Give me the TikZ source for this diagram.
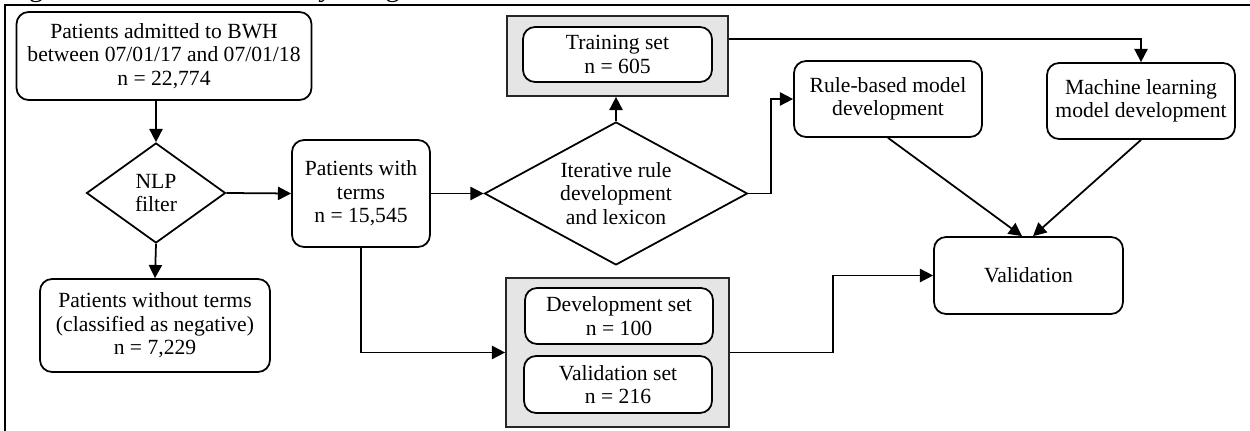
\documentclass[tikz,border=0pt]{standalone}
\usepackage{fontspec}
\setmainfont{Liberation Serif}
\usetikzlibrary{arrows.meta, shapes.geometric}
\tikzset{
	box/.style={draw, line width=1pt, rounded corners=0.24cm, align=center, inner sep=2pt, fill=white},
	decision/.style={draw, line width=1pt, diamond, align=center, inner sep=0pt, fill=white},
	grayframe/.style={draw=black!85, line width=1pt, fill=gray!20, inner sep=0pt},
	arr/.style={line width=1pt, -{Triangle[length=7.5pt,width=7.5pt]}},
}

\begin{document}
\begin{tikzpicture}[x=0.02cm, y=-0.02cm, font=\fontsize{12.3}{13.4}\selectfont]
	\useasboundingbox (0,0) rectangle (1250,431);
	\node[anchor=base west, inner sep=0pt, font=\fontsize{16.2}{18}\selectfont] (title) at (5,-3) {Figure 1. Flowchart of study design};
	\draw[line width=1.3pt] (5,431) -- (5,5) -- (1250,5);

	\node[box, minimum width=5.9cm, minimum height=1.76cm] (admit) at (164,56) {Patients admitted to BWH\\between 07/01/17 and 07/01/18\\n = 22,774};
	\node[decision, aspect=1.39, minimum width=2.78cm, minimum height=2cm] (nlp) at (156,193) {NLP\\filter};
	\node[box, minimum width=4.6cm, minimum height=1.86cm] (neg) at (155,325.5) {Patients without terms\\(classified as negative)\\n = 7,229};
	\node[box, minimum width=2.76cm, minimum height=2.14cm] (terms) at (361,193.5) {Patients with\\terms\\n = 15,545};
	\node[decision, aspect=1.84, minimum width=5.26cm, minimum height=2.86cm] (iter) at (616,193.5) {Iterative rule\\development\\and lexicon};
	\node[grayframe, minimum width=4.42cm, minimum height=1.6cm] (trainframe) at (617.5,56) {};
	\node[box, minimum width=3.78cm, minimum height=1.1cm] (train) at (617.5,54.5) {Training set\\n = 605};
	\node[box, minimum width=3.76cm, minimum height=1.52cm] (rule) at (888,99) {Rule-based model\\development};
	\node[box, minimum width=3.76cm, minimum height=1.52cm] (ml) at (1141,101) {Machine learning\\model development};
	\node[box, minimum width=3.78cm, minimum height=1.54cm] (valid) at (1028.5,275.5) {Validation};
	\node[grayframe, minimum width=4.46cm, minimum height=2.98cm] (setframe) at (617.5,352.5) {};
	\node[box, minimum width=3.76cm, minimum height=1.12cm] (dev) at (619,316) {Development set\\n = 100};
	\node[box, minimum width=3.76cm, minimum height=1.14cm] (val) at (618,384.5) {Validation set\\n = 216};

	\draw[arr] (nlp.north |- admit.south) -- (nlp.north);
	\draw[arr] (nlp.south) -- (neg.north);
	\draw[arr] (nlp.east) -- (terms.west);
	\draw[arr] (terms.east) -- (iter.west);
	\draw[arr] (iter.north) -- (iter.north |- trainframe.south);
	\draw[arr] ([yshift=0.34cm]trainframe.east) -| (ml.north);
	\draw[arr] (iter.east) -- ++(23,0) |- (rule.west);
	\draw[arr] (rule.south) -- ([xshift=-0.13cm]valid.north);
	\draw[arr] (ml.south) -- ([xshift=0.09cm]valid.north);
	\draw[arr] (terms.south) |- (setframe.west);
	\draw[arr] (setframe.east) -- ++(103,0) |- (valid.west);
\end{tikzpicture}
\end{document}
